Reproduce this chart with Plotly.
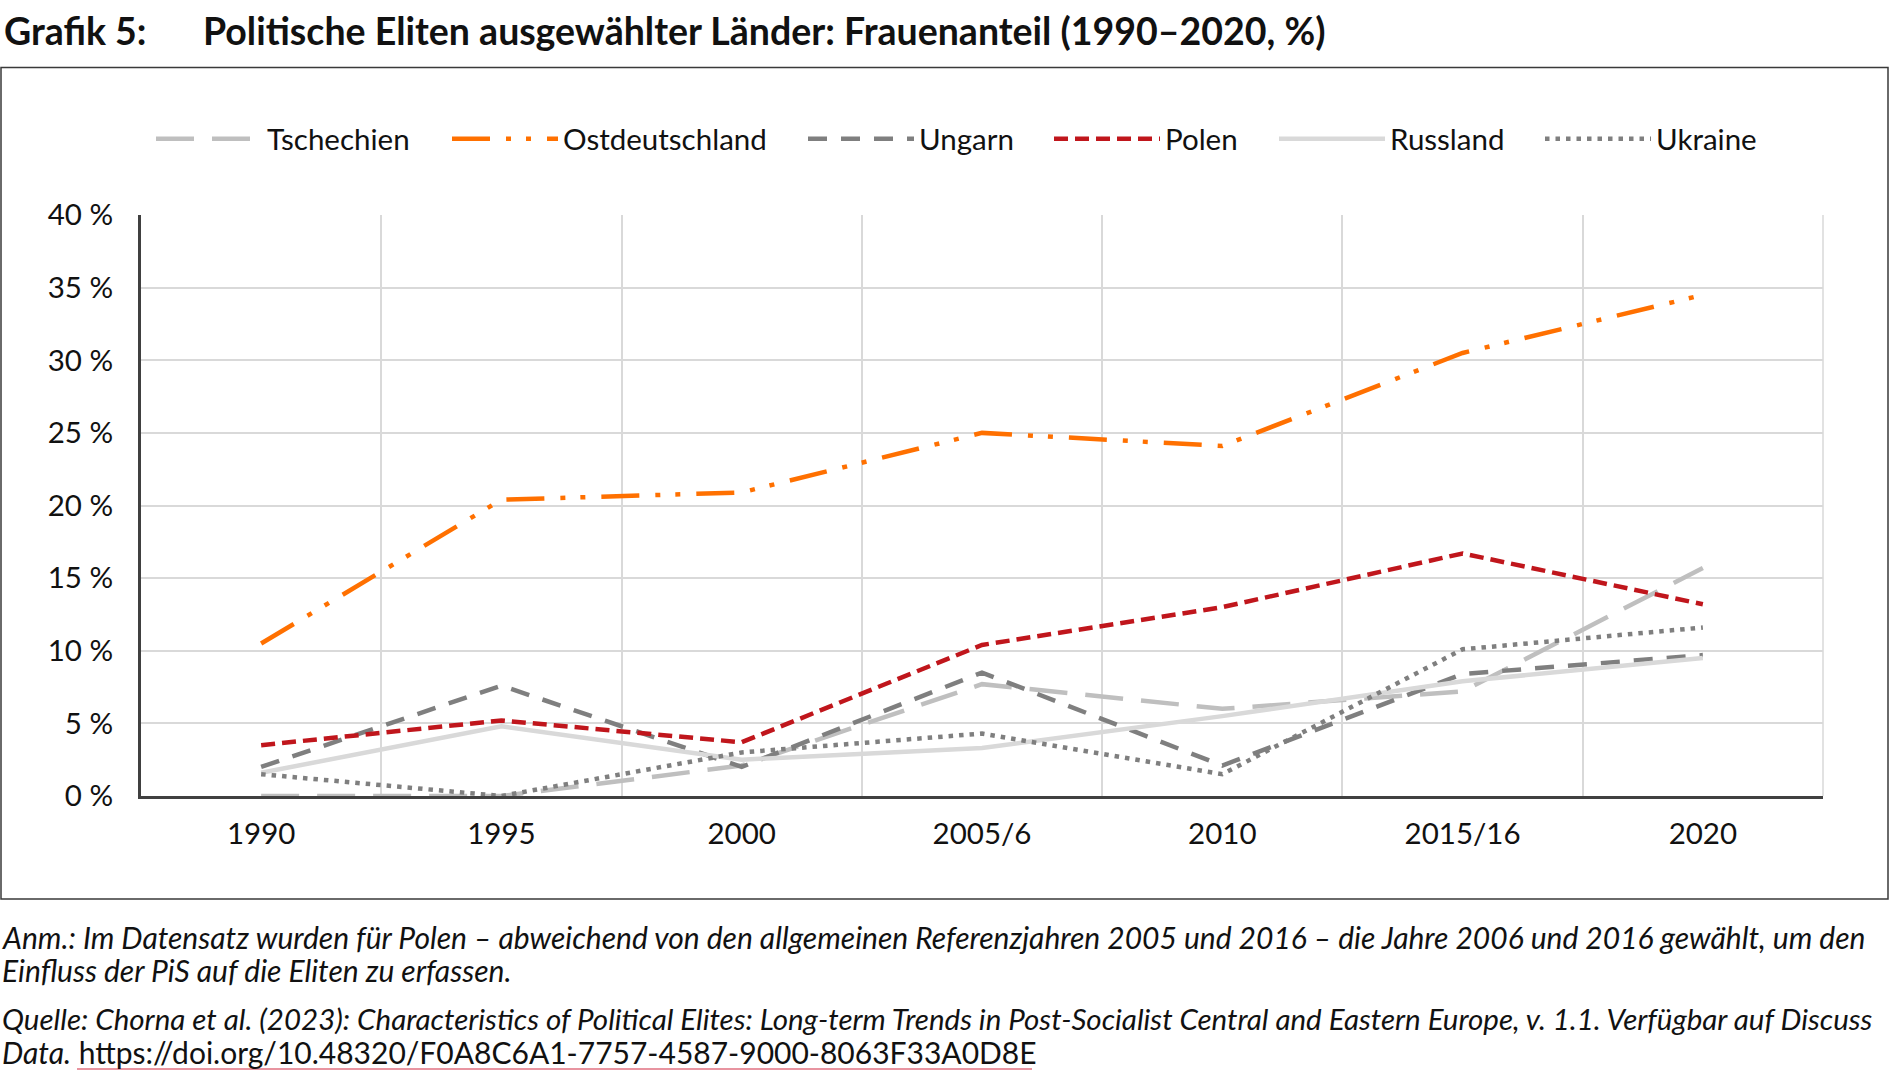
import plotly.graph_objects as go

# ---------------- data ----------------
categories = ["1990", "1995", "2000", "2005/6", "2010", "2015/16", "2020"]

series_names = ["Tschechien", "Ostdeutschland", "Ungarn", "Polen", "Russland", "Ukraine"]
tschechien = [0.0, 0.0, 2.1, 7.7, 6.0, 7.2, 15.7]
ostdeutschland = [10.5, 20.4, 20.9, 25.0, 24.1, 30.5, 34.5]
ungarn = [2.0, 7.6, 2.0, 8.5, 2.1, 8.4, 9.7]
polen = [3.5, 5.2, 3.7, 10.4, 13.0, 16.7, 13.2]
russland = [1.6, 4.8, 2.5, 3.3, 5.5, 7.9, 9.5]
ukraine = [1.5, 0.0, 3.0, 4.3, 1.5, 10.1, 11.6]
series_values = [tschechien, ostdeutschland, ungarn, polen, russland, ukraine]

y_tick_values = [0, 5, 10, 15, 20, 25, 30, 35, 40]
y_tick_labels = ["0 %", "5 %", "10 %", "15 %", "20 %", "25 %", "30 %", "35 %", "40 %"]

title_prefix = "Grafik 5:"
title_text = "Politische Eliten ausgewählter Länder: Frauenanteil (1990–2020, %)"
note_lines = [
    "<i>Anm.: Im Datensatz wurden für Polen – abweichend von den allgemeinen Referenzjahren "
    "2005 und 2016 – die Jahre 2006 und 2016 gewählt, um den</i>",
    "<i>Einfluss der PiS auf die Eliten zu erfassen.</i>",
    "<i>Quelle: Chorna et al. (2023): Characteristics of Political Elites: Long-term Trends in "
    "Post-Socialist Central and Eastern Europe, v. 1.1. Verfügbar auf Discuss</i>",
    "<i>Data.</i> https://doi.org/10.48320/F0A8C6A1-7757-4587-9000-8063F33A0D8E",
]

# ---------------- styles ----------------
colors = ["#BFBFBF", "#FF7000", "#7F7F7F", "#C0161C", "#D9D9D9", "#7F7F7F"]
dashes = ["38px,18px", "38px,16px,5px,15px,5px,16px", "19px,14px", "14px,7px", "solid", "4.5px,6px"]
widths = [4.5, 4.5, 4.5, 4.5, 4.5, 4.5]
legend_text_x = [268, 564, 920, 1166, 1391, 1657]   # pixel position of legend label starts
note_y = [937, 970, 1018.5, 1052]
note_sizes = [30, 30, 29.5, 30]

FONT = "Lato"
TXT = "#111111"
W, H = 1890, 1082
L, R, T, B = 141, 67, 215, 286
PW = W - L - R
PH = H - T - B
ITEMW = 106


def px(x):
    return (x - L) / PW


def py(y):
    return (H - B - y) / PH


fig = go.Figure()
legend_layout = {}
for i, (name, vals, c, d, w) in enumerate(zip(series_names, series_values, colors, dashes, widths)):
    lg = "legend" if i == 0 else "legend%d" % (i + 1)
    fig.add_trace(go.Scatter(
        x=categories, y=vals, name=name, mode="lines", legend=lg,
        line=dict(color=c, dash=d, width=w),
    ))
    legend_layout[lg] = dict(
        orientation="h", x=px(legend_text_x[i] - ITEMW - 11), xanchor="left",
        y=py(139), yanchor="middle",
        font=dict(family=FONT, size=29.5, color=TXT),
        itemwidth=ITEMW, bgcolor="rgba(0,0,0,0)", borderwidth=0,
    )

fig.update_layout(
    width=W, height=H,
    margin=dict(l=L, r=R, t=T, b=B),
    paper_bgcolor="white", plot_bgcolor="white",
    font=dict(family=FONT, size=29.5, color=TXT),
    showlegend=True,
    xaxis=dict(
        type="category", categoryorder="array", categoryarray=categories,
        range=[-0.5, 6.5], tickson="boundaries",
        showgrid=True, gridcolor="#D9D9D9", gridwidth=1.5,
        showline=True, linecolor="#404040", linewidth=3,
        ticks="", ticklabelstandoff=10, fixedrange=True,
        tickfont=dict(family=FONT, size=29.5, color=TXT),
    ),
    yaxis=dict(
        range=[0, 40], tickvals=y_tick_values, ticktext=y_tick_labels,
        showgrid=True, gridcolor="#D9D9D9", gridwidth=1.5,
        showline=True, linecolor="#404040", linewidth=3,
        zeroline=False, ticks="", ticklabelstandoff=19, fixedrange=True,
        tickfont=dict(family=FONT, size=29.5, color=TXT),
    ),
    **legend_layout,
)

# outer frame of the chart box
fig.add_shape(type="rect", xref="paper", yref="paper",
              x0=px(1), x1=px(1888), y0=py(899), y1=py(67.5),
              line=dict(color="#3A3A3A", width=1.5), fillcolor="rgba(0,0,0,0)", layer="below")
# right border of the plot area
fig.add_shape(type="line", xref="paper", yref="paper", x0=1, x1=1, y0=0, y1=1,
              line=dict(color="#D9D9D9", width=1.5), layer="below")

fig.add_annotation(text="<b>" + title_prefix + "</b>", xref="paper", yref="paper",
                   x=px(2), y=py(30), xanchor="left", yanchor="middle", showarrow=False,
                   font=dict(family=FONT, size=37.5, color=TXT))
fig.add_annotation(text="<b>" + title_text + "</b>", xref="paper", yref="paper",
                   x=px(201), y=py(30), xanchor="left", yanchor="middle", showarrow=False,
                   font=dict(family=FONT, size=37.5, color=TXT))

for line_text, yy, fs in zip(note_lines, note_y, note_sizes):
    fig.add_annotation(text=line_text, xref="paper", yref="paper", align="left",
                       x=px(0), y=py(yy), xanchor="left", yanchor="middle", showarrow=False,
                       font=dict(family=FONT, size=fs, color=TXT))
# underline of the DOI link
fig.add_shape(type="line", xref="paper", yref="paper",
              x0=px(77), x1=px(1032), y0=py(1069), y1=py(1069),
              line=dict(color="#E07080", width=1.5))

fig.write_html("out.html", config={"displayModeBar": False},
               post_script="document.body.style.margin='0';")
